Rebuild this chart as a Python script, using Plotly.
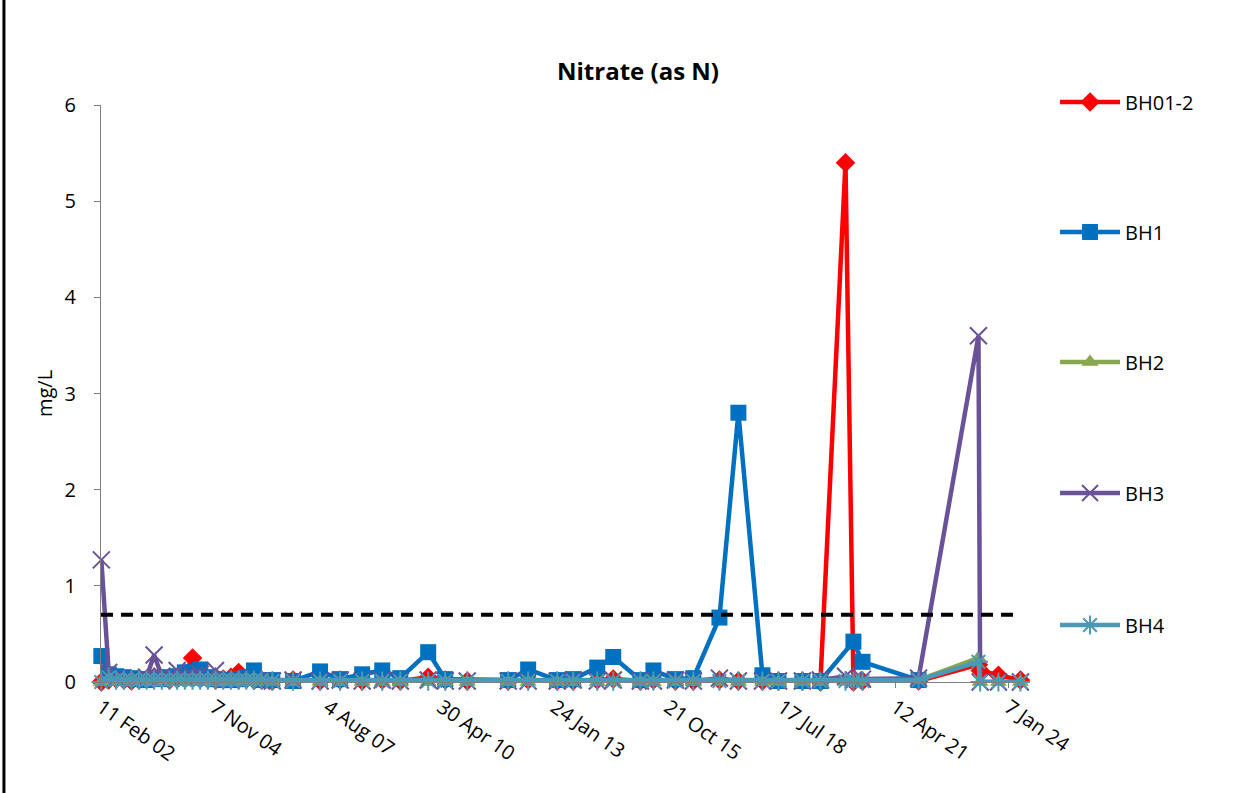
import plotly.graph_objects as go

# ---- data -------------------------------------------------------------
DATES = [
    "2002-02-14", "2002-04-20", "2002-06-25", "2002-09-01", "2002-11-05",
    "2003-01-12", "2003-03-20", "2003-05-25", "2003-08-01", "2003-10-08",
    "2003-12-14", "2004-02-20", "2004-04-28", "2004-07-04", "2004-09-10",
    "2004-11-16", "2005-01-24", "2005-04-01", "2005-06-08", "2005-08-15",
    "2005-10-21", "2005-12-28",
    "2006-04-01", "2006-10-01", "2007-05-27", "2007-11-20", "2008-06-01",
    "2008-11-25", "2009-05-03", "2010-01-04", "2010-06-03", "2010-12-14",
    "2011-12-10", "2012-06-03", "2013-02-14", "2013-07-05", "2014-02-02",
    "2014-06-23", "2015-02-17", "2015-06-12", "2015-12-23", "2016-05-29",
    "2017-01-14", "2017-06-30", "2018-01-28", "2018-06-18", "2019-01-15",
    "2019-06-23", "2020-01-30", "2020-04-09", "2020-06-28", "2021-11-04",
    "2023-04-16", "2023-05-01", "2023-10-09", "2024-04-20",
]

BH01_2 = [
    0.00, 0.02, 0.03, 0.02, 0.01, 0.02, 0.03, 0.05, 0.04, 0.02,
    0.03, 0.08, 0.25, 0.06, 0.03, 0.02, 0.03, 0.05, 0.10, 0.04,
    0.02, 0.02,
    0.01, 0.02, 0.01, 0.02, 0.01, 0.02, 0.01, 0.05, 0.02, 0.01,
    0.01, 0.02, 0.01, 0.01, 0.02, 0.03, 0.01, 0.02, 0.01, 0.01,
    0.02, 0.01, 0.01, 0.01, 0.01, 0.00, 5.40, 0.00, 0.01, 0.01,
    0.18, 0.12, 0.07, 0.02,
]

BH1 = [
    0.27, 0.08, 0.06, 0.05, 0.04, 0.03, 0.02, 0.04, 0.03, 0.05,
    0.06, 0.10, 0.10, 0.13, 0.05, 0.03, 0.02, 0.02, 0.03, 0.05,
    0.12, 0.02,
    0.02, 0.01, 0.11, 0.03, 0.08, 0.12, 0.04, 0.31, 0.03, None,
    0.02, 0.13, 0.02, 0.03, 0.15, 0.26, 0.02, 0.12, 0.03, 0.04,
    0.67, 2.80, 0.07, 0.01, 0.01, 0.01, None, 0.42, 0.21, 0.02,
    None, None, None, None,
]

BH2 = [
    0.00, 0.01, 0.00, 0.00, 0.00, 0.00, 0.01, 0.00, 0.00, 0.00,
    0.00, 0.00, 0.01, 0.00, 0.00, 0.00, 0.00, 0.00, 0.00, 0.00,
    0.00, 0.00,
    0.00, 0.00, 0.00, 0.00, 0.00, 0.00, 0.00, 0.00, 0.00, 0.00,
    0.00, 0.00, 0.00, 0.00, 0.00, 0.00, 0.00, 0.00, 0.00, 0.00,
    0.00, 0.00, 0.00, 0.00, 0.00, 0.00, 0.00, 0.00, 0.00, 0.02,
    0.25, 0.00, 0.00, 0.00,
]

BH3 = [
    1.27, 0.10, 0.04, 0.03, 0.02, 0.03, 0.05, 0.28, 0.06, 0.04,
    0.12, 0.05, 0.06, 0.08, 0.03, 0.12, 0.03, 0.02, 0.03, 0.02,
    0.02, 0.01,
    0.01, 0.02, 0.01, 0.02, 0.01, 0.02, 0.01, 0.02, 0.01, 0.01,
    0.01, 0.01, 0.01, 0.02, 0.01, 0.02, 0.01, 0.01, 0.02, 0.01,
    0.04, 0.01, 0.01, 0.01, 0.01, 0.02, 0.06, 0.02, 0.03, 0.04,
    3.60, 0.00, 0.00, 0.00,
]

BH4 = [
    0.00, 0.05, 0.02, 0.02, 0.02, 0.02, 0.02, 0.02, 0.02, 0.02,
    0.02, 0.02, 0.02, 0.02, 0.02, 0.02, 0.02, 0.02, 0.02, 0.02,
    0.02, 0.02,
    0.01, 0.01, 0.01, 0.01, 0.01, 0.01, 0.01, 0.01, 0.01, 0.01,
    0.01, 0.01, 0.01, 0.01, 0.01, 0.01, 0.01, 0.01, 0.01, 0.01,
    0.01, 0.01, 0.01, 0.01, 0.01, 0.01, 0.01, 0.01, 0.01, 0.02,
    0.21, 0.00, 0.00, 0.00,
]

GUIDELINE = 0.7
SERIES_NAMES = ["BH01-2", "BH1", "BH2", "BH3", "BH4"]
Y_TICKS = [0, 1, 2, 3, 4, 5, 6]

# ---- styles -----------------------------------------------------------
FONT = "Open Sans"
FS = 20
styles = {
    "BH01-2": dict(color="#FF0000", symbol="diamond", size=15, lw=0),
    "BH1": dict(color="#0070C0", symbol="square", size=16, lw=0),
    "BH2": dict(color="#8AA64E", symbol="triangle-up", size=15, lw=0),
    "BH3": dict(color="#6A5298", symbol="x-thin-open", size=17, lw=2),
    "BH4": dict(color="#4A9AB5", symbol="asterisk-open", size=16, lw=2),
}
values = {"BH01-2": BH01_2, "BH1": BH1, "BH2": BH2, "BH3": BH3, "BH4": BH4}
legend_ys = [102, 232, 362, 493, 625]   # pixel rows of legend entries

fig = go.Figure()
legend_layouts = {}
for i, name in enumerate(SERIES_NAMES):
    s = styles[name]
    lname = "legend" if i == 0 else f"legend{i + 1}"
    fig.add_trace(go.Scatter(
        x=DATES, y=values[name], name=name, mode="lines+markers",
        connectgaps=True, cliponaxis=False, legend=lname,
        line=dict(color=s["color"], width=4.5),
        marker=dict(symbol=s["symbol"], size=s["size"], color=s["color"],
                    line=dict(width=s["lw"], color=s["color"])),
    ))
    legend_layouts[lname] = dict(
        x=1.037, xanchor="left", y=(682 - legend_ys[i]) / 577,
        yanchor="middle", font=dict(family=FONT, size=FS),
        itemwidth=60,
        bgcolor="rgba(0,0,0,0)", borderwidth=0)

fig.add_shape(type="line", xref="paper", x0=0, x1=1, yref="y",
              y0=GUIDELINE, y1=GUIDELINE,
              line=dict(color="black", width=4, dash="12px,8px"))

# left frame line
fig.add_shape(type="line", xref="paper", yref="paper",
              x0=-0.1055, x1=-0.1055, y0=-0.3, y1=1.3,
              line=dict(color="black", width=3))

fig.update_layout(
    width=1241, height=793,
    margin=dict(l=101, r=220, t=105, b=111),
    paper_bgcolor="white", plot_bgcolor="white",
    font=dict(family=FONT, size=FS, color="#000000"),
    title=dict(text="<b>Nitrate (as N)</b>", x=638 / 1241, xanchor="center",
               xref="container", y=1 - 72 / 793, yanchor="middle",
               font=dict(family=FONT, size=24, color="#000000")),
    showlegend=True,
    xaxis=dict(type="date", range=["2002-02-11", "2024-04-25"],
               tick0="2002-02-11", dtick=86400000 * 1000,
               tickformat="%-d %b %y", tickangle=35,
               showgrid=False, zeroline=False, showline=True,
               linecolor="#7f7f7f", linewidth=1, ticks="outside",
               ticklen=5, tickcolor="#7f7f7f",
               tickfont=dict(family=FONT, size=FS)),
    yaxis=dict(range=[0, 6], tickvals=Y_TICKS, showgrid=False,
               zeroline=False, showline=True, linecolor="#7f7f7f",
               linewidth=1, ticks="outside", ticklen=6,
               tickcolor="#7f7f7f", ticklabelstandoff=14,
               title=dict(text="mg/L", standoff=6,
                          font=dict(family=FONT, size=FS)),
               tickfont=dict(family=FONT, size=FS)),
    **legend_layouts,
)

fig.write_html("out.html")
